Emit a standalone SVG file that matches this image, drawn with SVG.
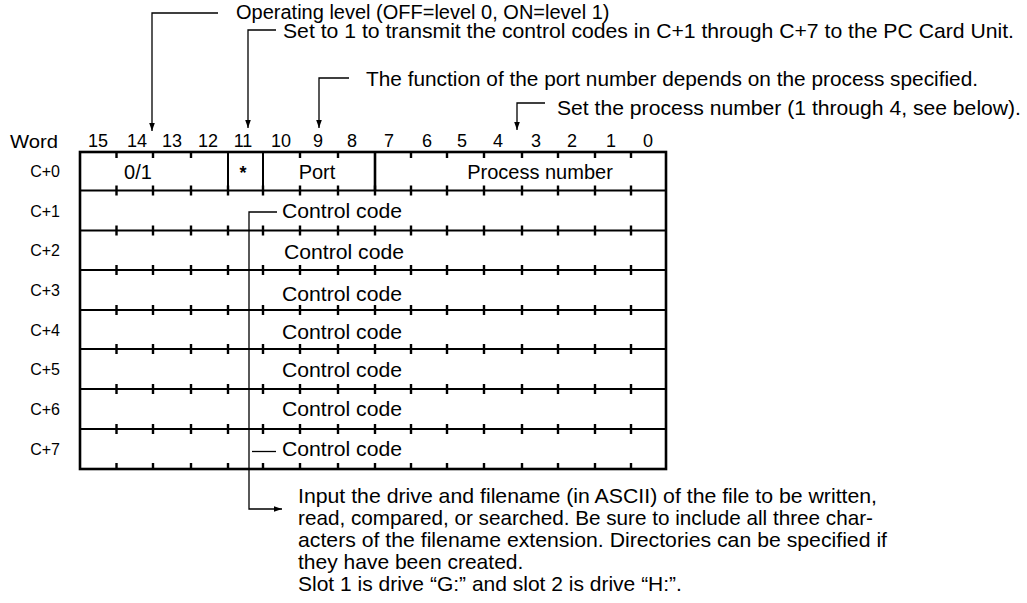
<svg xmlns="http://www.w3.org/2000/svg" xmlns:xlink="http://www.w3.org/1999/xlink" width="1027" height="603" viewBox="0 0 1027 603">
<style>
 text{font-family:"Liberation Sans",Arial,Helvetica,sans-serif;fill:#000}
 .ann{font-size:21px}
 .bit{font-size:18px;text-anchor:middle}
 .wl{font-size:16px;text-anchor:end}
 .cell{font-size:20px}
 .mid{text-anchor:middle}
 .note{font-size:21px}
 .ln{stroke:#000;fill:none;stroke-linecap:butt}
 .thin{stroke-width:1.3}
 .rule{stroke-width:2}
 .tick{stroke-width:2.4}
 .frame{stroke-width:2.6}
</style>
<defs>
 <marker id="ah" viewBox="0 0 8 8" refX="8" refY="4" markerWidth="8" markerHeight="8" markerUnits="userSpaceOnUse" orient="auto"><path d="M0,1.2 L8,4 L0,6.8z" fill="#000"/></marker>
 <path id="tk" class="ln tick" d="M116.5,-5v10M153,-5v10M191,-5v10M228,-5v10M263,-5v10M300,-5v10M338,-5v10M375,-5v10M411,-5v10M447,-5v10M484,-5v10M522,-5v10M558,-5v10M595,-5v10M631,-5v10"/>
 <path id="tkd" class="ln tick" d="M116.5,0v6M153,0v6M191,0v6M300,0v6M338,0v6M411,0v6M447,0v6M484,0v6M522,0v6M558,0v6M595,0v6M631,0v6"/>
 <path id="tku" class="ln tick" d="M116.5,0v-6M153,0v-6M191,0v-6M228,0v-6M263,0v-6M300,0v-6M338,0v-6M375,0v-6M411,0v-6M447,0v-6M484,0v-6M522,0v-6M558,0v-6M595,0v-6M631,0v-6"/>
</defs>
<rect width="1027" height="603" fill="#fff"/>

<g id="annotations">
 <text id="ann-level" class="ann" x="236" y="18.5" style="font-size:20px">Operating level (OFF=level 0, ON=level 1)</text>
 <text id="ann-transmit" class="ann" x="283" y="37.5" textLength="731" lengthAdjust="spacingAndGlyphs">Set to 1 to transmit the control codes in C+1 through C+7 to the PC Card Unit.</text>
 <text id="ann-port" class="ann" x="366" y="86" textLength="612" lengthAdjust="spacingAndGlyphs">The function of the port number depends on the process specified.</text>
 <text id="ann-process" class="ann" x="557" y="115" textLength="464" lengthAdjust="spacingAndGlyphs">Set the process number (1 through 4, see below).</text>
</g>

<g id="bit-numbers">
 <text x="10" y="148" style="font-size:19px" textLength="48" lengthAdjust="spacingAndGlyphs">Word</text>
 <text class="bit" x="98" y="147">15</text>
 <text class="bit" x="137" y="147">14</text>
 <text class="bit" x="172" y="147">13</text>
 <text class="bit" x="208" y="147">12</text>
 <text class="bit" x="243" y="147">11</text>
 <text class="bit" x="281" y="147">10</text>
 <text class="bit" x="318" y="147">9</text>
 <text class="bit" x="352" y="147">8</text>
 <text class="bit" x="389" y="147">7</text>
 <text class="bit" x="427" y="147">6</text>
 <text class="bit" x="462" y="147">5</text>
 <text class="bit" x="498" y="147">4</text>
 <text class="bit" x="536" y="147">3</text>
 <text class="bit" x="572" y="147">2</text>
 <text class="bit" x="611" y="147">1</text>
 <text class="bit" x="648" y="147">0</text>
</g>

<g id="word-labels">
 <text class="wl" x="60" y="177">C+0</text>
 <text class="wl" x="60" y="217">C+1</text>
 <text class="wl" x="60" y="256">C+2</text>
 <text class="wl" x="60" y="296">C+3</text>
 <text class="wl" x="60" y="336">C+4</text>
 <text class="wl" x="60" y="375">C+5</text>
 <text class="wl" x="60" y="415">C+6</text>
 <text class="wl" x="60" y="455">C+7</text>
</g>

<g id="table">
 <rect class="ln frame" x="80" y="152" width="586" height="317"/>
 <path class="ln rule" d="M80,190.5H666M80,230.5H666M80,270H666M80,310H666M80,349H666M80,389H666M80,429H666"/>
 <path class="ln rule" d="M228,152V190.5M263,152V190.5"/>
 <path class="ln frame" d="M375,152V190.5"/>
 <use xlink:href="#tkd" href="#tkd" y="152"/>
 <use xlink:href="#tk" href="#tk" y="190.5"/>
 <use xlink:href="#tk" href="#tk" y="230.5"/>
 <use xlink:href="#tk" href="#tk" y="270"/>
 <use xlink:href="#tk" href="#tk" y="310"/>
 <use xlink:href="#tk" href="#tk" y="349"/>
 <use xlink:href="#tk" href="#tk" y="389"/>
 <use xlink:href="#tk" href="#tk" y="429"/>
 <use xlink:href="#tku" href="#tku" y="469"/>
</g>

<g id="row-c0">
 <text class="cell mid" x="138" y="179">0/1</text>
 <text class="cell mid" x="243" y="179" style="font-size:18px;font-weight:bold">*</text>
 <text class="cell mid" x="317" y="179">Port</text>
 <text class="cell mid" x="540" y="179">Process number</text>
</g>
<g id="rows-control">
 <text class="cell" x="282" y="218" textLength="120" lengthAdjust="spacingAndGlyphs">Control code</text>
 <text class="cell" x="284" y="259" textLength="120" lengthAdjust="spacingAndGlyphs">Control code</text>
 <text class="cell" x="282" y="301" textLength="120" lengthAdjust="spacingAndGlyphs">Control code</text>
 <text class="cell" x="282" y="339" textLength="120" lengthAdjust="spacingAndGlyphs">Control code</text>
 <text class="cell" x="282" y="377" textLength="120" lengthAdjust="spacingAndGlyphs">Control code</text>
 <text class="cell" x="282" y="416" textLength="120" lengthAdjust="spacingAndGlyphs">Control code</text>
 <text class="cell" x="282" y="456" textLength="120" lengthAdjust="spacingAndGlyphs">Control code</text>
</g>

<g id="note">
 <text class="note" x="298" y="503" textLength="579" lengthAdjust="spacingAndGlyphs">Input the drive and filename (in ASCII) of the file to be written,</text>
 <text class="note" x="298" y="525" textLength="575" lengthAdjust="spacingAndGlyphs">read, compared, or searched. Be sure to include all three char-</text>
 <text class="note" x="298" y="547" textLength="589" lengthAdjust="spacingAndGlyphs">acters of the filename extension. Directories can be specified if</text>
 <text class="note" x="298" y="569">they have been created.</text>
 <text class="note" x="298" y="591">Slot 1 is drive “G:” and slot 2 is drive “H:”.</text>
</g>

<g id="connectors">
 <path class="ln thin" d="M218,13H152V131" marker-end="url(#ah)"/>
 <path class="ln thin" d="M276,30H248V128" marker-end="url(#ah)"/>
 <path class="ln thin" d="M349,78H319V128" marker-end="url(#ah)"/>
 <path class="ln thin" d="M545,103H517V130" marker-end="url(#ah)"/>
 <path class="ln thin" d="M277,212H249V509H282" marker-end="url(#ah)"/>
 <path class="ln thin" d="M252,451.5H276"/>
</g>
</svg>
